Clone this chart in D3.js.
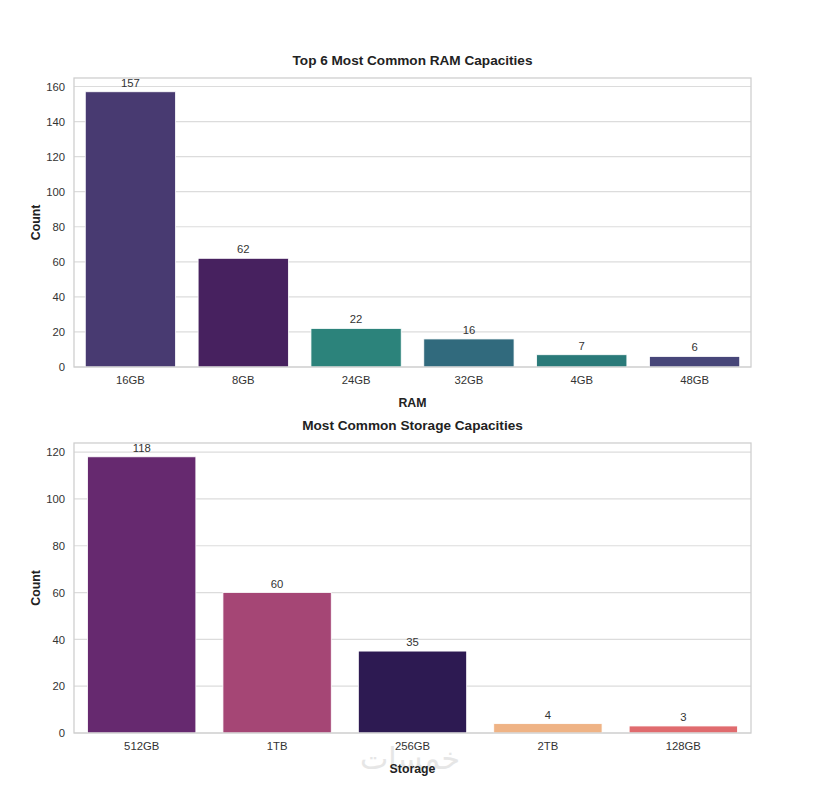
<!DOCTYPE html>
<html>
<head>
<meta charset="utf-8">
<script src="https://cdn.jsdelivr.net/npm/d3@7"></script>
<style>
  body { margin: 0; background: #fff; }
  svg { font-family: "Liberation Sans", Arial, sans-serif; }
  .tick text { fill: #333; font-size: 11.3px; }
  .grid line { stroke: #dcdcdc; stroke-width: 1.2; }
</style>
</head>
<body>
<svg id="chart" width="820" height="788"></svg>
<script>
// RAM chart data
var ramCats = ["16GB", "8GB", "24GB", "32GB", "4GB", "48GB"];
var ramCounts = [157, 62, 22, 16, 7, 6];
var ramColors = ["#483a71", "#47215f", "#2c837b", "#316a7d", "#2a7a79", "#474679"];
var ramTicks = [0, 20, 40, 60, 80, 100, 120, 140, 160];

// Storage chart data
var storCats = ["512GB", "1TB", "256GB", "2TB", "128GB"];
var storCounts = [118, 60, 35, 4, 3];
var storColors = ["#66296f", "#a54675", "#2d1a52", "#efb385", "#e06b6e"];
var storTicks = [0, 20, 40, 60, 80, 100, 120];

var svg = d3.select("#chart");

// watermark sits behind everything
svg.append("text")
    .attr("x", 410)
    .attr("y", 769)
    .attr("text-anchor", "middle")
    .style("font-family", "DejaVu Sans")
    .style("font-size", "30px")
    .style("fill", "#e6e6e6")
    .text("خمسات");

function drawBars(opts) {
    var left = 74, right = 751;
    var x = d3.scaleBand()
        .domain(opts.cats)
        .range([left, right])
        .paddingInner(0.2)
        .paddingOuter(0.1);

    var y = d3.scaleLinear()
        .domain([0, d3.max(opts.counts) * 1.05])
        .range([opts.bottom, opts.top]);

    var data = opts.cats.map(function (c, i) {
        return { cat: c, count: opts.counts[i], color: opts.colors[i] };
    });

    // grid lines
    svg.append("g")
        .attr("class", "grid")
        .selectAll("line")
        .data(opts.ticks)
        .enter().append("line")
        .attr("x1", left)
        .attr("x2", right)
        .attr("y1", function (d) { return y(d); })
        .attr("y2", function (d) { return y(d); });

    // bars
    svg.append("g").selectAll("rect")
        .data(data)
        .enter().append("rect")
        .attr("x", function (d) { return x(d.cat); })
        .attr("width", x.bandwidth())
        .attr("y", function (d) { return y(d.count); })
        .attr("height", function (d) { return y(0) - y(d.count); })
        .attr("fill", function (d) { return d.color; })
        .attr("stroke", "#ffffff")
        .attr("stroke-width", 0.8);

    // value labels
    svg.append("g").selectAll("text")
        .data(data)
        .enter().append("text")
        .attr("x", function (d) { return x(d.cat) + x.bandwidth() / 2; })
        .attr("y", function (d) { return y(d.count) - 5; })
        .attr("text-anchor", "middle")
        .style("font-size", "11.3px")
        .style("fill", "#333")
        .text(function (d) { return d.count; });

    // frame
    svg.append("rect")
        .attr("x", left)
        .attr("y", opts.top)
        .attr("width", right - left)
        .attr("height", opts.bottom - opts.top)
        .attr("fill", "none")
        .attr("stroke", "#cfcfcf")
        .attr("stroke-width", 1.3);

    // axes
    var yAxis = d3.axisLeft(y).tickValues(opts.ticks).tickSize(0).tickPadding(9);
    var gy = svg.append("g")
        .attr("transform", "translate(" + left + ",0)")
        .call(yAxis);
    gy.select(".domain").remove();

    var xAxis = d3.axisBottom(x).tickSize(0).tickPadding(9);
    var gx = svg.append("g")
        .attr("transform", "translate(0," + opts.bottom + ")")
        .call(xAxis);
    gx.select(".domain").remove();

    // title
    svg.append("text")
        .attr("x", (left + right) / 2)
        .attr("y", opts.top - 13)
        .attr("text-anchor", "middle")
        .style("font-size", "13.6px")
        .style("font-weight", "bold")
        .style("fill", "#222")
        .text(opts.title);

    // x-axis title
    svg.append("text")
        .attr("x", (left + right) / 2)
        .attr("y", opts.bottom + 40)
        .attr("text-anchor", "middle")
        .style("font-size", "12.3px")
        .style("font-weight", "bold")
        .style("fill", "#222")
        .text(opts.xLabel);

    // y-axis title
    svg.append("text")
        .attr("transform", "rotate(-90)")
        .attr("x", -(opts.top + opts.bottom) / 2)
        .attr("y", 40)
        .attr("text-anchor", "middle")
        .style("font-size", "12.3px")
        .style("font-weight", "bold")
        .style("fill", "#222")
        .text("Count");
}

drawBars({
    cats: ramCats, counts: ramCounts, colors: ramColors, ticks: ramTicks,
    top: 78, bottom: 367, title: "Top 6 Most Common RAM Capacities", xLabel: "RAM"
});

drawBars({
    cats: storCats, counts: storCounts, colors: storColors, ticks: storTicks,
    top: 443, bottom: 733, title: "Most Common Storage Capacities", xLabel: "Storage"
});
</script>
</body>
</html>
